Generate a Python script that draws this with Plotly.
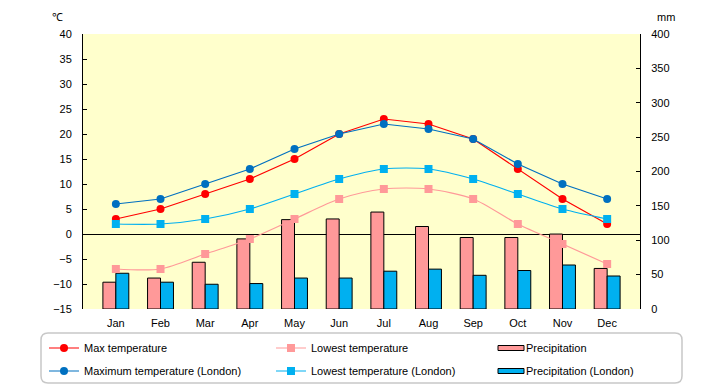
import plotly.graph_objects as go

months = ["Jan", "Feb", "Mar", "Apr", "May", "Jun", "Jul", "Aug", "Sep", "Oct", "Nov", "Dec"]
max_temp = [3, 5, 8, 11, 15, 20, 23, 22, 19, 13, 7, 2]
low_temp = [-7, -7, -4, -1, 3, 7, 9, 9, 7, 2, -2, -6]
precip = [39, 45, 68, 102, 130, 131, 141, 120, 104, 104, 109, 59]
max_temp_london = [6, 7, 10, 13, 17, 20, 22, 21, 19, 14, 10, 7]
low_temp_london = [2, 2, 3, 5, 8, 11, 13, 13, 11, 8, 5, 3]
precip_london = [52, 39, 36, 37, 45, 45, 55, 58, 49, 56, 64, 48]

W, H = 720, 385
L, R, T, B = 83, 640, 34, 309

def px(x):
    return (x - L) / (R - L)

def py(y):
    return (B - y) / (B - T)

FONT = "Liberation Sans"
PINK, BLUE = "#FF9999", "#00B0F0"
fig = go.Figure()

# Bars on base (right) axis so lines draw above them
fig.add_trace(go.Bar(x=months, y=precip, name="Precipitation", marker=dict(color=PINK, line=dict(color="black", width=1)),
                     yaxis="y", showlegend=False))
fig.add_trace(go.Bar(x=months, y=precip_london, name="Precipitation (London)", marker=dict(color=BLUE, line=dict(color="black", width=1)),
                     yaxis="y", showlegend=False))

fig.add_trace(go.Scatter(x=months, y=max_temp, name="Max temperature", mode="lines+markers",
                         line=dict(color="#FF0000", width=1.2), marker=dict(symbol="circle", size=8, color="#FF0000"),
                         yaxis="y2", legend="legend", showlegend=True))
fig.add_trace(go.Scatter(x=months, y=low_temp, name="Lowest temperature", mode="lines+markers",
                         line=dict(color=PINK, width=1.2, shape="spline", smoothing=0.8),
                         marker=dict(symbol="square", size=8, color=PINK),
                         yaxis="y2", legend="legend2", showlegend=True))
fig.add_trace(go.Scatter(x=months, y=max_temp_london, name="Maximum temperature (London)", mode="lines+markers",
                         line=dict(color="#0070C0", width=1.2), marker=dict(symbol="circle", size=8, color="#0070C0"),
                         yaxis="y2", legend="legend4", showlegend=True))
fig.add_trace(go.Scatter(x=months, y=low_temp_london, name="Lowest temperature (London)", mode="lines+markers",
                         line=dict(color=BLUE, width=1.2, shape="spline", smoothing=0.8),
                         marker=dict(symbol="square", size=8, color=BLUE),
                         yaxis="y2", legend="legend5", showlegend=True))

# legend-only entries for the bar series (symbol drawn as a flat box shape below)
fig.add_trace(go.Scatter(x=[None], y=[None], name="Precipitation", mode="lines",
                         line=dict(color="rgba(0,0,0,0)", width=0), yaxis="y2", legend="legend3", showlegend=True,
                         hoverinfo="skip"))
fig.add_trace(go.Scatter(x=[None], y=[None], name="Precipitation (London)", mode="lines",
                         line=dict(color="rgba(0,0,0,0)", width=0), yaxis="y2", legend="legend6", showlegend=True,
                         hoverinfo="skip"))

# rounded legend box
x0, y0, x1, y1, r = 41, 333, 682, 383, 7
path = (f"M {px(x0 + r)},{py(y0)} L {px(x1 - r)},{py(y0)} Q {px(x1)},{py(y0)} {px(x1)},{py(y0 + r)} "
        f"L {px(x1)},{py(y1 - r)} Q {px(x1)},{py(y1)} {px(x1 - r)},{py(y1)} "
        f"L {px(x0 + r)},{py(y1)} Q {px(x0)},{py(y1)} {px(x0)},{py(y1 - r)} "
        f"L {px(x0)},{py(y0 + r)} Q {px(x0)},{py(y0)} {px(x0 + r)},{py(y0)} Z")

legend_common = dict(orientation="v", xanchor="left", yanchor="middle",
                     font=dict(family=FONT, size=11, color="black"), bgcolor="rgba(0,0,0,0)",
                     itemclick=False, itemdoubleclick=False)
col_x = [44, 271, 486]
row_y = [348, 371]
legends = {}
names = ["legend", "legend2", "legend3", "legend4", "legend5", "legend6"]
for i, nm in enumerate(names):
    legends[nm] = dict(x=px(col_x[i % 3]), y=py(row_y[i // 3]), **legend_common)

shapes = [dict(type="path", path=path, xref="paper", yref="paper", line=dict(color="#C8C8C8", width=1.5),
               fillcolor="rgba(0,0,0,0)", layer="below")]
for ry, col in zip(row_y, [PINK, BLUE]):
    shapes.append(dict(type="rect", xref="paper", yref="paper", x0=px(498), x1=px(524), y0=py(ry - 2.5), y1=py(ry + 2.5),
                       fillcolor=col, line=dict(color="black", width=1)))

fig.update_layout(
    width=W, height=H,
    margin=dict(l=L, r=W - R, t=T, b=H - B, autoexpand=False),
    paper_bgcolor="white",
    plot_bgcolor="#FFFFCC",
    barmode="group", bargap=0.42, bargroupgap=0,
    font=dict(family=FONT, size=11, color="black"),
    xaxis=dict(showline=False, ticks="", showgrid=False, tickfont=dict(size=11), ticklabelstandoff=6),
    yaxis=dict(side="right", range=[0, 400], dtick=50, showgrid=False, zeroline=False,
               showline=True, linecolor="black", linewidth=1, ticks="inside", ticklen=4, tickcolor="black",
               tickfont=dict(size=11), ticklabelstandoff=8),
    yaxis2=dict(side="left", overlaying="y", range=[-15, 40], dtick=5, showgrid=False,
                zeroline=True, zerolinecolor="black", zerolinewidth=1,
                showline=True, linecolor="black", linewidth=1, ticks="inside", ticklen=4, tickcolor="black",
                tickfont=dict(size=11), ticklabelstandoff=8),
    shapes=shapes,
    annotations=[
        dict(text="℃", x=px(57), y=py(17), xref="paper", yref="paper", showarrow=False,
             font=dict(size=11), xanchor="center", yanchor="middle"),
        dict(text="mm", x=px(666), y=py(17), xref="paper", yref="paper", showarrow=False,
             font=dict(size=11), xanchor="center", yanchor="middle"),
    ],
    **legends,
)

fig.write_html("out.html", config={"displayModeBar": False},
               post_script="document.body.style.margin='0px';")
